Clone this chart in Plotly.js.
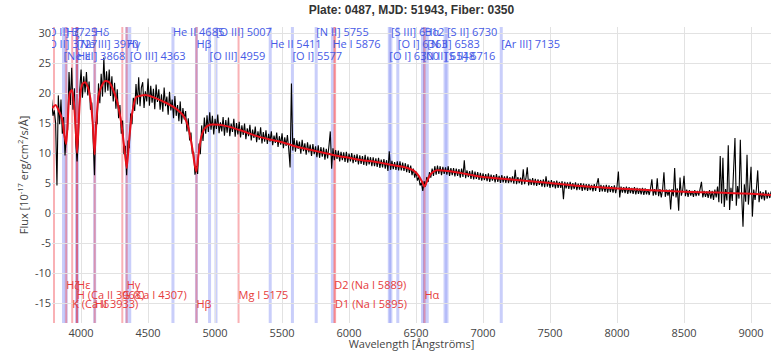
<!DOCTYPE html>
<html><head><meta charset="utf-8">
<script src="https://cdn.plot.ly/plotly-3.0.1.min.js"></script>
<style>html,body{margin:0;padding:0;background:#fff}#chart{width:771px;height:351px}</style>
</head><body><div id="chart"></div>
<script>
const wavelength = [
3780,3790,3800,3810,3820,3830,3840,3850,3860,3870,3880,3890,3900,3910,3920,3930,3940,3950,3960,3970,
3980,3990,4000,4010,4020,4030,4040,4050,4060,4070,4080,4090,4100,4110,4120,4130,4140,4150,4160,4170,
4180,4190,4200,4210,4220,4230,4240,4250,4260,4270,4280,4290,4300,4310,4320,4330,4340,4350,4360,4370,
4380,4390,4400,4410,4420,4430,4440,4450,4460,4470,4480,4490,4500,4510,4520,4530,4540,4550,4560,4570,
4580,4590,4600,4610,4620,4630,4640,4650,4660,4670,4680,4690,4700,4710,4720,4730,4740,4750,4760,4770,
4780,4790,4800,4810,4820,4830,4840,4850,4860,4870,4880,4890,4900,4910,4920,4930,4940,4950,4960,4970,
4980,4990,5000,5010,5020,5030,5040,5050,5060,5070,5080,5090,5100,5110,5120,5130,5140,5150,5160,5170,
5180,5190,5200,5210,5220,5230,5240,5250,5260,5270,5280,5290,5300,5310,5320,5330,5340,5350,5360,5370,
5380,5390,5400,5410,5420,5430,5440,5450,5460,5470,5480,5490,5500,5510,5520,5530,5540,5550,5560,5570,
5580,5590,5600,5610,5620,5630,5640,5650,5660,5670,5680,5690,5700,5710,5720,5730,5740,5750,5760,5770,
5780,5790,5800,5810,5820,5830,5840,5850,5860,5870,5880,5890,5900,5910,5920,5930,5940,5950,5960,5970,
5980,5990,6000,6010,6020,6030,6040,6050,6060,6070,6080,6090,6100,6110,6120,6130,6140,6150,6160,6170,
6180,6190,6200,6210,6220,6230,6240,6250,6260,6270,6280,6290,6300,6310,6320,6330,6340,6350,6360,6370,
6380,6390,6400,6410,6420,6430,6440,6450,6460,6470,6480,6490,6500,6510,6520,6530,6540,6550,6560,6570,
6580,6590,6600,6610,6620,6630,6640,6650,6660,6670,6680,6690,6700,6710,6720,6730,6740,6750,6760,6770,
6780,6790,6800,6810,6820,6830,6840,6850,6860,6870,6880,6890,6900,6910,6920,6930,6940,6950,6960,6970,
6980,6990,7000,7010,7020,7030,7040,7050,7060,7070,7080,7090,7100,7110,7120,7130,7140,7150,7160,7170,
7180,7190,7200,7210,7220,7230,7240,7250,7260,7270,7280,7290,7300,7310,7320,7330,7340,7350,7360,7370,
7380,7390,7400,7410,7420,7430,7440,7450,7460,7470,7480,7490,7500,7510,7520,7530,7540,7550,7560,7570,
7580,7590,7600,7610,7620,7630,7640,7650,7660,7670,7680,7690,7700,7710,7720,7730,7740,7750,7760,7770,
7780,7790,7800,7810,7820,7830,7840,7850,7860,7870,7880,7890,7900,7910,7920,7930,7940,7950,7960,7970,
7980,7990,8000,8010,8020,8030,8040,8050,8060,8070,8080,8090,8100,8110,8120,8130,8140,8150,8160,8170,
8180,8190,8200,8210,8220,8230,8240,8250,8260,8270,8280,8290,8300,8310,8320,8330,8340,8350,8360,8370,
8380,8390,8400,8410,8420,8430,8440,8450,8460,8470,8480,8490,8500,8510,8520,8530,8540,8550,8560,8570,
8580,8590,8600,8610,8620,8630,8640,8650,8660,8670,8680,8690,8700,8710,8720,8730,8740,8750,8760,8770,
8780,8790,8800,8810,8820,8830,8840,8850,8860,8870,8880,8890,8900,8910,8920,8930,8940,8950,8960,8970,
8980,8990,9000,9010,9020,9030,9040,9050,9060,9070,9080,9090,9100,9110,9120,9130,9140,9150,9160,9170];
const flux = [
18.9,16.2,17.1,15.0,4.6,19.6,14.8,18.9,13.2,16.0,9.6,12.8,13.9,23.5,18.0,24.2,17.2,20.8,11.8,8.6,
12.0,20.5,23.9,19.2,22.8,20.1,23.5,19.6,21.9,17.2,18.4,10.8,6.3,15.2,14.8,21.6,18.3,23.2,19.4,25.9,
20.1,23.6,20.4,23.9,19.5,22.8,18.6,21.7,17.4,20.6,15.8,18.0,13.2,15.4,9.8,11.2,6.3,12.1,10.8,16.6,
14.8,19.2,17.0,21.5,18.1,22.6,17.8,20.9,21.8,17.5,20.3,18.6,22.4,17.9,21.2,18.4,20.7,17.3,21.4,18.5,
20.6,17.2,19.8,16.9,20.9,17.8,19.4,16.4,20.2,17.1,18.9,15.8,19.5,16.2,18.0,15.3,18.6,14.9,17.5,15.6,
17.0,13.6,15.8,12.1,13.4,9.9,10.2,6.4,7.8,6.5,11.6,9.8,14.6,12.0,15.9,13.2,16.3,13.5,16.8,13.9,
16.2,13.1,15.7,14.0,16.4,13.3,15.1,13.6,16.0,12.9,15.5,13.4,15.9,12.8,14.9,13.5,15.7,12.7,15.0,13.1,
15.2,12.6,14.6,13.0,14.9,12.3,14.1,12.8,14.7,12.1,13.9,12.5,14.4,11.8,13.6,12.2,14.3,11.6,13.5,11.9,
13.8,11.5,13.2,11.9,13.6,11.3,12.9,11.7,13.4,11.0,12.8,11.4,13.3,10.8,12.6,11.2,13.0,10.6,7.6,21.6,
10.4,12.5,10.2,12.1,10.7,11.9,9.9,12.2,10.3,11.6,9.7,11.8,10.1,11.4,9.5,11.5,9.8,11.1,9.3,11.3,
9.2,11.0,9.4,10.9,8.9,10.7,9.1,11.2,13.6,7.4,10.8,8.8,10.5,9.0,10.4,8.6,10.2,8.8,10.1,8.5,
10.2,8.4,9.9,8.6,10.0,8.3,9.7,8.5,9.8,8.1,9.6,8.2,9.5,8.0,9.7,7.9,9.4,8.1,9.3,7.8,
9.3,7.8,9.1,7.7,9.2,7.5,8.9,7.6,9.0,7.4,8.8,7.0,10.3,7.2,8.7,7.3,8.5,7.2,8.6,7.1,
8.6,7.1,8.4,7.0,8.3,6.8,8.1,6.7,7.9,6.3,7.4,5.9,6.9,5.4,6.0,4.6,5.1,3.7,5.3,4.4,
6.0,5.2,6.8,5.9,7.4,6.2,7.8,6.4,7.9,6.5,7.8,6.3,7.7,6.5,7.6,6.4,7.8,6.2,7.5,6.3,
7.5,6.1,7.4,6.2,7.3,5.9,7.4,6.0,8.8,5.8,7.1,6.0,7.0,5.7,7.1,5.6,6.9,5.7,6.8,5.5,
6.7,5.4,6.6,5.5,6.5,5.3,6.6,5.2,6.4,5.4,6.3,5.1,6.5,5.2,6.2,5.0,6.3,5.1,6.1,5.0,
6.2,5.0,6.0,5.1,6.1,4.9,7.2,4.8,6.0,5.0,5.9,4.7,7.3,4.8,5.8,7.6,4.6,5.7,4.7,5.8,
4.6,5.7,4.5,5.6,4.7,5.5,4.4,5.6,4.3,6.1,4.4,5.4,4.2,5.5,4.3,5.3,4.1,5.4,4.2,5.2,
4.2,5.3,2.3,5.2,4.1,5.1,4.0,5.2,3.9,5.0,4.0,5.1,3.8,4.9,3.9,5.0,3.7,4.9,3.8,4.8,
3.7,4.8,3.8,4.7,3.6,4.8,3.7,4.9,5.8,3.5,4.7,3.6,4.6,3.5,4.7,3.4,4.6,3.5,4.5,3.4,
4.6,3.3,4.5,6.9,2.6,4.4,3.4,4.3,3.3,4.4,3.2,4.3,3.3,4.2,3.2,4.3,3.1,4.2,3.2,4.1,
3.1,4.2,3.0,4.1,3.1,4.0,3.0,4.1,5.6,2.9,4.0,3.0,5.8,2.8,4.0,2.6,3.9,6.8,2.7,3.9,
2.9,3.9,0.6,4.0,2.8,7.5,2.6,4.1,0.4,5.9,2.9,3.8,6.2,2.8,3.9,2.7,3.8,2.9,3.7,2.7,
3.8,2.8,3.7,2.9,3.8,5.2,2.6,3.7,2.7,3.6,2.5,3.8,2.4,3.7,2.2,3.9,2.6,4.4,1.8,9.5,
1.6,9.2,1.0,4.0,2.1,11.3,0.5,4.2,2.0,6.8,12.5,1.2,4.5,2.4,12.2,3.0,-2.3,4.8,1.9,9.7,
1.4,4.2,7.7,-0.6,3.9,2.2,4.0,7.1,1.8,3.6,2.3,3.5,2.1,3.8,2.4,3.4,2.5,3.6,2.3,3.2];

const modelWave = [3785,3810,3835,3860,3875,3889,3902,3915,3932,3948,
3960,3970,3982,3995,4010,4030,4050,4070,4087,4101,
4115,4130,4150,4180,4210,4240,4270,4300,4322,4341,
4360,4380,4410,4450,4500,4560,4620,4680,4730,4770,
4800,4830,4850,4861,4875,4895,4920,4960,5030,5100,
5200,5300,5400,5500,5600,5700,5800,5900,6000,6100,
6200,6300,6400,6480,6520,6545,6563,6585,6610,6650,
6700,6800,6900,7000,7250,7500,7750,8000,8250,8500,
8750,9000,9160];
const modelFlux = [17.5,18.0,17.0,15.5,13.0,11.5,16.0,20.0,20.5,18.0,
14.0,10.0,15.0,20.0,21.5,21.8,21.0,19.0,15.0,9.8,
15.5,19.5,21.0,22.0,21.8,20.5,18.5,15.0,11.0,7.5,
12.5,16.5,19.3,19.6,19.6,19.1,18.5,17.8,17.0,16.0,
14.3,10.8,7.8,6.9,9.5,12.5,14.0,14.7,14.7,14.4,
13.7,12.9,12.3,11.8,11.1,10.6,10.1,9.6,9.2,8.8,
8.5,8.1,7.7,7.1,6.2,5.2,4.4,5.5,6.5,7.1,
7.1,6.8,6.4,6.0,5.5,5.0,4.45,4.1,3.8,3.55,
3.4,3.2,3.0];

const emissionWave = [3725.9,3727.4,3868.8,3889.0,3968.5,3970.1,4101.7,4340.5,4363.2,4685.7,4861.3,4958.9,5006.8,5411.5,5577.3,5754.6,5875.6,6300.3,6312.1,6363.8,6548.1,6562.8,6583.5,6716.4,6730.8,7135.8];
const emissionLabel = ['[O II] 3725','[O II] 3727','[Ne III] 3868','Hζ','[Ne III] 3970','Hε','Hδ','Hγ','[O III] 4363','He II 4685','Hβ','[O III] 4959','[O III] 5007','He II 5411','[O I] 5577','[N II] 5755','He I 5876','[O I] 6300','[S III] 6312','[O I] 6363','[N II] 6548','Hα','[N II] 6583','[S II] 6716','[S II] 6730','[Ar III] 7135'];
const absorptionWave = [3797.9,3889.0,3933.7,3968.5,3970.1,4101.7,4307.7,4340.5,4861.3,5175.3,5889.9,5895.9,6562.8];
const absorptionLabel = ['','Hζ','K (Ca II 3933)','H (Ca II 3968)','Hε','Hδ','G (Ca I 4307)','Hγ','Hβ','Mg I 5175','D2 (Na I 5889)','D1 (Na I 5895)','Hα'];
const xTickVals = [4000,4500,5000,5500,6000,6500,7000,7500,8000,8500,9000];
const yTickVals = [-15,-10,-5,0,5,10,15,20,25,30];

const emissionRowY = [30, 28, 26];
const absorptionRowY = [-13.8, -12.2, -15.4];

const shapes = [];
emissionWave.forEach(w => shapes.push({type:'line', xref:'x', yref:'paper', x0:w, x1:w, y0:0, y1:1, layer:'below',
  line:{color:'rgba(90,105,240,0.33)', width:3}}));
absorptionWave.forEach(w => shapes.push({type:'line', xref:'x', yref:'paper', x0:w, x1:w, y0:0, y1:1, layer:'below',
  line:{color:'rgba(240,60,70,0.4)', width:2}}));

const traces = [
  {x: wavelength, y: flux, type:'scatter', mode:'lines', line:{color:'#000', width:1.1}, hoverinfo:'skip'},
  {x: modelWave, y: modelFlux, type:'scatter', mode:'lines', line:{color:'#e8101a', width:2, shape:'spline', smoothing:0.6}, hoverinfo:'skip'},
  {x: emissionWave, y: emissionWave.map((w,i)=>emissionRowY[i%3]), text: emissionLabel, type:'scatter', mode:'text',
   textposition:'middle right', textfont:{color:'rgb(70,90,230)', size:11, family:'Open Sans'}, hoverinfo:'skip'},
  {x: absorptionWave, y: absorptionWave.map((w,i)=>absorptionRowY[i%3]), text: absorptionLabel, type:'scatter', mode:'text',
   textposition:'middle right', textfont:{color:'rgb(230,60,60)', size:11, family:'Open Sans'}, hoverinfo:'skip'}
];

const layout = {
  width: 771, height: 351,
  margin: {l:52, r:0, t:27, b:28},
  paper_bgcolor:'#fff', plot_bgcolor:'#fff',
  showlegend:false,
  font:{family:'Open Sans', color:'#444', size:11},
  title:{text:'<b>Plate: 0487, MJD: 51943, Fiber: 0350</b>', font:{family:'Liberation Sans', size:12, color:'#333'}, x:0.5, xref:'paper', y:0.985, yref:'container', yanchor:'top'},
  xaxis:{range:[3783,9149], tickvals:xTickVals, ticktext:xTickVals.map(String), gridcolor:'#e2e2e2', zeroline:false, showline:false,
    ticklabelstandoff:2,
    tickfont:{size:11, color:'#444'}, title:{text:'Wavelength [Ångströms]', font:{size:11, color:'#444'}, standoff:3}},
  yaxis:{range:[-18.33, 31.0], tickvals:yTickVals, ticktext:yTickVals.map(String), gridcolor:'#e2e2e2', zeroline:false, showline:false,
    tickfont:{size:11, color:'#444'}, title:{text:'Flux [10<sup>-17</sup> erg/cm<sup>2</sup>/s/Å]', font:{size:11, color:'#444'}, standoff:4}},
  shapes: shapes
};
Plotly.newPlot('chart', traces, layout, {displayModeBar:false, staticPlot:true});
</script></body></html>
